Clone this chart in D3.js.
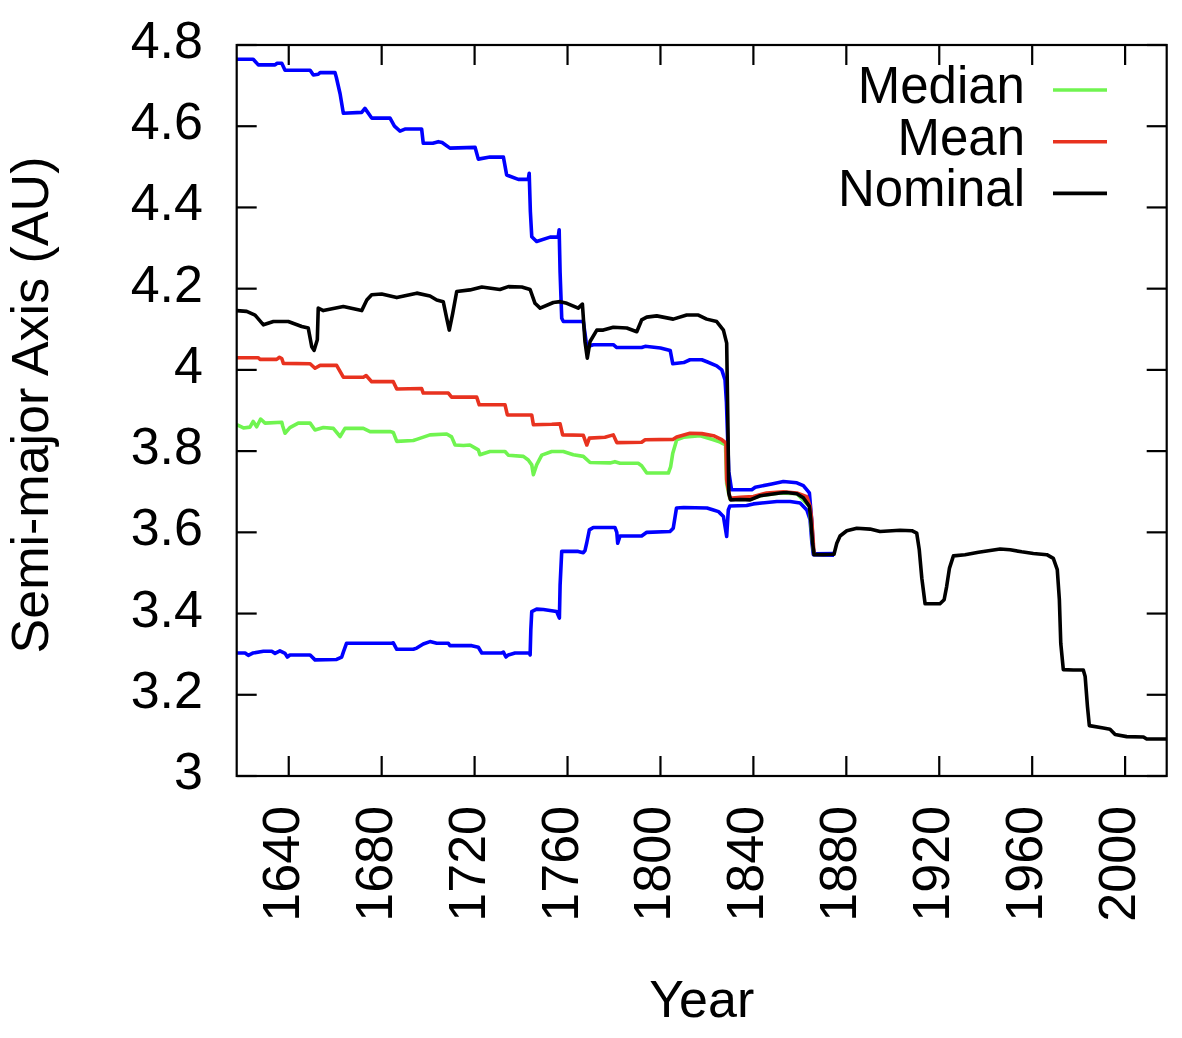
<!DOCTYPE html>
<html>
<head>
<meta charset="utf-8">
<script src="https://cdn.jsdelivr.net/npm/d3@7"></script>
<style>
  body { margin: 0; background: #fff; }
  text { font-family: "Liberation Sans", Arial, sans-serif; fill: #000; }
  .line { fill: none; stroke-width: 3.6px; stroke-linejoin: round; }
</style>
</head>
<body>
<svg width="1182" height="1038"></svg>
<script>
var width = 1182;
var height = 1038;

// [year, semi-major axis (AU)]
var upper_bound = [
  [1617.6,4.765],[1624.7,4.765],[1626.9,4.751],[1634.1,4.751],[1635.0,4.755],[1637.0,4.755],[1638.4,4.738],
  [1649.2,4.738],[1650.6,4.726],[1652.7,4.728],[1653.5,4.732],[1659.9,4.732],[1660.5,4.720],[1662.1,4.680],
  [1663.5,4.632],[1671.4,4.634],[1672.8,4.644],[1675.7,4.620],[1683.6,4.620],[1685.5,4.600],[1687.9,4.588],
  [1690.0,4.593],[1697.2,4.593],[1697.9,4.558],[1702.0,4.558],[1704.4,4.562],[1706.0,4.560],[1709.4,4.546],
  [1720.2,4.548],[1721.6,4.519],[1726.6,4.524],[1732.4,4.524],[1733.8,4.480],[1738.8,4.469],[1743.1,4.469],
  [1743.5,4.484],[1744.0,4.390],[1744.6,4.328],[1746.7,4.316],[1752.5,4.327],[1756.0,4.327],[1756.4,4.345],
  [1756.8,4.240],[1757.5,4.127],[1758.2,4.119],[1766.8,4.119],[1768.3,4.057],[1771.1,4.062],[1779.7,4.062],
  [1781.2,4.055],[1791.9,4.055],[1793.4,4.058],[1800.0,4.054],[1804.2,4.048],[1805.3,4.015],[1810.0,4.018],
  [1812.7,4.025],[1817.8,4.025],[1820.0,4.020],[1824.2,4.010],[1826.4,4.000],[1827.8,3.975],[1828.4,3.920],
  [1829.4,3.750],[1830.6,3.705],[1839.3,3.705],[1840.8,3.711],[1847.9,3.719],[1852.9,3.725],[1858.7,3.722],
  [1861.5,3.715],[1864.1,3.697],[1865.1,3.630],[1865.8,3.560],[1866.3,3.547],[1874.7,3.548]
];

var lower_bound = [
  [1617.6,3.303],[1621.2,3.303],[1622.6,3.297],[1624.7,3.303],[1629.1,3.307],[1632.7,3.307],[1634.1,3.302],
  [1636.2,3.308],[1638.4,3.302],[1639.4,3.293],[1640.5,3.298],[1649.2,3.298],[1651.3,3.286],[1660.6,3.287],
  [1662.8,3.293],[1663.5,3.305],[1664.9,3.327],[1684.3,3.327],[1685.0,3.328],[1686.5,3.312],[1693.6,3.312],
  [1695.1,3.315],[1697.9,3.325],[1700.8,3.331],[1703.7,3.327],[1708.7,3.327],[1709.4,3.321],[1718.8,3.321],
  [1721.6,3.317],[1723.1,3.303],[1731.7,3.303],[1732.4,3.305],[1733.5,3.293],[1734.5,3.298],[1737.4,3.303],
  [1743.6,3.303],[1743.9,3.298],[1744.2,3.360],[1744.6,3.405],[1746.7,3.411],[1749.6,3.410],[1755.3,3.405],
  [1756.5,3.389],[1756.8,3.470],[1757.5,3.553],[1764.6,3.553],[1766.8,3.550],[1767.5,3.555],[1768.3,3.575],
  [1769.4,3.606],[1771.1,3.612],[1780.4,3.612],[1781.2,3.600],[1781.6,3.573],[1782.6,3.591],[1791.9,3.591],
  [1794.1,3.600],[1804.1,3.602],[1805.5,3.610],[1806.9,3.660],[1810.0,3.661],[1820.0,3.660],[1822.8,3.655],
  [1825.0,3.651],[1827.1,3.639],[1828.5,3.590],[1829.2,3.655],[1829.9,3.665],[1837.1,3.666],[1840.0,3.670],
  [1850.1,3.676],[1855.8,3.676],[1860.1,3.672],[1863.0,3.655],[1864.4,3.631],[1865.1,3.580],[1865.8,3.545],
  [1874.7,3.544]
];

var median = [
  [1617.6,3.865],[1620.5,3.857],[1623.3,3.859],[1624.7,3.873],[1626.2,3.860],[1627.9,3.879],[1629.8,3.869],
  [1637.0,3.871],[1637.4,3.862],[1638.4,3.844],[1640.5,3.858],[1644.1,3.869],[1649.2,3.869],[1651.3,3.852],
  [1654.9,3.858],[1659.2,3.856],[1662.1,3.836],[1664.2,3.856],[1672.1,3.856],[1675.0,3.848],[1683.6,3.848],
  [1685.0,3.846],[1686.5,3.824],[1693.6,3.826],[1695.1,3.829],[1700.8,3.840],[1708.0,3.842],[1710.1,3.835],
  [1711.6,3.815],[1715.2,3.814],[1718.0,3.815],[1721.6,3.803],[1722.3,3.791],[1726.6,3.799],[1733.1,3.799],
  [1734.5,3.790],[1741.0,3.787],[1743.1,3.778],[1744.6,3.766],[1745.3,3.742],[1746.7,3.766],[1748.9,3.790],
  [1753.2,3.799],[1758.2,3.799],[1762.5,3.791],[1766.8,3.787],[1769.7,3.772],[1778.3,3.771],[1780.4,3.774],
  [1782.6,3.770],[1790.4,3.770],[1791.9,3.764],[1794.1,3.746],[1803.4,3.746],[1804.4,3.762],[1805.3,3.795],
  [1807.0,3.828],[1809.9,3.834],[1817.1,3.838],[1822.8,3.828],[1825.7,3.822],[1828.0,3.815],[1828.5,3.720],
  [1829.9,3.682],[1834.3,3.681],[1838.6,3.682],[1842.9,3.690],[1851.5,3.697],[1858.7,3.695],[1864.1,3.664],
  [1865.5,3.573],[1866.1,3.545]
];

var mean = [
  [1617.6,4.030],[1626.9,4.030],[1627.6,4.026],[1634.8,4.026],[1636.0,4.031],[1637.0,4.028],[1637.7,4.016],
  [1649.2,4.015],[1651.3,4.004],[1653.5,4.011],[1660.6,4.011],[1663.5,3.982],[1672.1,3.982],[1673.3,3.986],
  [1675.7,3.971],[1685.0,3.971],[1686.5,3.953],[1697.2,3.954],[1697.9,3.943],[1708.7,3.943],[1710.1,3.933],
  [1720.9,3.933],[1722.0,3.914],[1733.1,3.914],[1734.1,3.889],[1744.6,3.889],[1745.3,3.865],[1753.2,3.866],
  [1756.8,3.867],[1757.9,3.840],[1766.8,3.839],[1768.3,3.815],[1769.4,3.832],[1776.1,3.834],[1779.7,3.840],
  [1781.2,3.821],[1791.9,3.822],[1793.4,3.828],[1805.5,3.829],[1807.0,3.835],[1812.7,3.844],[1817.8,3.843],
  [1822.8,3.838],[1826.4,3.828],[1828.2,3.820],[1828.5,3.729],[1829.9,3.684],[1834.3,3.686],[1840.0,3.688],
  [1845.7,3.697],[1852.9,3.700],[1858.7,3.697],[1863.0,3.688],[1864.4,3.664],[1865.1,3.631],[1865.8,3.573],
  [1866.1,3.545]
];

var nominal = [
  [1617.6,4.146],[1621.9,4.144],[1625.5,4.135],[1629.1,4.111],[1633.4,4.119],[1639.8,4.119],[1645.6,4.107],
  [1648.4,4.103],[1649.9,4.057],[1650.9,4.048],[1652.3,4.074],[1652.7,4.152],[1654.9,4.146],[1663.5,4.156],
  [1671.4,4.146],[1673.6,4.172],[1675.7,4.185],[1680.0,4.187],[1686.5,4.178],[1695.1,4.189],[1700.8,4.182],
  [1703.7,4.172],[1706.5,4.168],[1708.0,4.127],[1709.1,4.098],[1710.6,4.140],[1712.3,4.193],[1718.0,4.197],
  [1723.1,4.204],[1730.9,4.198],[1734.5,4.205],[1740.3,4.204],[1743.9,4.198],[1746.0,4.164],[1748.2,4.152],
  [1753.9,4.166],[1756.8,4.168],[1759.7,4.164],[1764.6,4.152],[1766.4,4.162],[1767.5,4.070],[1768.5,4.029],
  [1769.7,4.070],[1772.6,4.098],[1775.4,4.098],[1779.7,4.105],[1785.5,4.103],[1789.8,4.094],[1791.9,4.123],
  [1794.1,4.130],[1798.4,4.133],[1805.5,4.125],[1811.3,4.135],[1816.3,4.135],[1819.9,4.125],[1824.2,4.119],
  [1827.1,4.098],[1828.5,4.066],[1829.0,3.877],[1829.4,3.697],[1830.2,3.680],[1834.3,3.681],[1838.6,3.680],
  [1842.9,3.690],[1851.5,3.697],[1854.3,3.698],[1858.7,3.695],[1861.5,3.685],[1864.1,3.664],[1864.7,3.631],
  [1865.5,3.573],[1866.1,3.545],[1870.1,3.545],[1874.7,3.546],[1875.9,3.573],[1877.3,3.591],[1880.2,3.604],
  [1884.5,3.610],[1890.2,3.608],[1894.5,3.602],[1903.1,3.605],[1908.2,3.604],[1910.3,3.598],[1911.4,3.557],
  [1912.5,3.487],[1913.9,3.424],[1920.3,3.424],[1922.1,3.434],[1923.2,3.467],[1924.4,3.512],[1926.1,3.542],
  [1931.1,3.545],[1936.9,3.551],[1946.2,3.559],[1950.5,3.557],[1955.5,3.552],[1960.5,3.548],[1966.3,3.545],
  [1969.1,3.536],[1970.8,3.508],[1971.7,3.434],[1972.3,3.327],[1973.4,3.262],[1977.7,3.261],[1982.0,3.261],
  [1982.8,3.245],[1983.8,3.171],[1984.6,3.124],[1990.6,3.118],[1993.5,3.115],[1995.7,3.102],[2000.7,3.097],
  [2007.9,3.096],[2009.3,3.091],[2017.9,3.091]
];

var x_ticks = [1640, 1680, 1720, 1760, 1800, 1840, 1880, 1920, 1960, 2000];
var y_ticks = [3, 3.2, 3.4, 3.6, 3.8, 4, 4.2, 4.4, 4.6, 4.8];
var legend_labels = ["Median", "Mean", "Nominal"];

var blue = "#0000ff";
var legend_colors = ["#70f450", "#e8321f", "#000000"];

var plot = { left: 236.7, right: 1166.7, top: 45, bottom: 776 };
var tick_len = 20;
var font_size = 52;

var x = d3.scaleLinear().domain([1617.6, 2017.9]).range([plot.left, plot.right]);
var y = d3.scaleLinear().domain([3, 4.8]).range([plot.bottom, plot.top]);

var svg = d3.select("svg")
    .attr("width", width)
    .attr("height", height);

svg.append("rect").attr("width", width).attr("height", height).attr("fill", "#fff");

// data lines (bounds first so the nominal curve ends up on top)
var line = d3.line()
    .x(function(d) { return x(d[0]); })
    .y(function(d) { return y(d[1]); });

var series = [
  { data: upper_bound, color: blue },
  { data: lower_bound, color: blue },
  { data: median, color: legend_colors[0] },
  { data: mean, color: legend_colors[1] },
  { data: nominal, color: legend_colors[2] }
];

svg.append("g").selectAll(".line")
    .data(series)
  .enter().append("path")
    .attr("class", "line")
    .attr("stroke", function(d) { return d.color; })
    .attr("d", function(d) { return line(d.data); });

// axes: gnuplot style, ticks pointing inwards on all four sides
var axes = svg.append("g")
    .attr("stroke", "#000")
    .attr("stroke-width", 2.2);

axes.append("rect")
    .attr("x", plot.left)
    .attr("y", plot.top)
    .attr("width", plot.right - plot.left)
    .attr("height", plot.bottom - plot.top)
    .attr("fill", "none");

y_ticks.forEach(function(t) {
    axes.append("line").attr("x1", plot.left).attr("x2", plot.left + tick_len).attr("y1", y(t)).attr("y2", y(t));
    axes.append("line").attr("x1", plot.right).attr("x2", plot.right - tick_len).attr("y1", y(t)).attr("y2", y(t));
});

x_ticks.forEach(function(t) {
    axes.append("line").attr("x1", x(t)).attr("x2", x(t)).attr("y1", plot.bottom).attr("y2", plot.bottom - tick_len);
    axes.append("line").attr("x1", x(t)).attr("x2", x(t)).attr("y1", plot.top).attr("y2", plot.top + tick_len);
});

var fmt = function(v) { return String(+v.toFixed(1)); };

svg.append("g").selectAll(".ylab")
    .data(y_ticks)
  .enter().append("text")
    .attr("class", "ylab")
    .attr("x", 203)
    .attr("y", function(d) { return y(d) + 13; })
    .attr("text-anchor", "end")
    .attr("font-size", font_size)
    .text(fmt);

svg.append("g").selectAll(".xlab")
    .data(x_ticks)
  .enter().append("text")
    .attr("class", "xlab")
    .attr("transform", function(d) { return "translate(" + (x(d) + 10) + ",806) rotate(-90)"; })
    .attr("text-anchor", "end")
    .attr("font-size", font_size)
    .text(function(d) { return d; });

svg.append("text")
    .attr("transform", "translate(48,405) rotate(-90)")
    .attr("text-anchor", "middle")
    .attr("font-size", font_size)
    .text("Semi-major Axis (AU)");

svg.append("text")
    .attr("x", (plot.left + plot.right) / 2)
    .attr("y", 1017)
    .attr("text-anchor", "middle")
    .attr("font-size", font_size)
    .text("Year");

// legend (rows are tighter than the font's line box, as in the original)
var legend = svg.append("g").selectAll(".legend")
    .data(legend_labels)
  .enter().append("g")
    .attr("class", "legend")
    .attr("transform", function(d, i) { return "translate(0," + (90 + i * 51.7) + ")"; });

legend.append("text")
    .attr("x", 1025)
    .attr("y", 13)
    .attr("text-anchor", "end")
    .attr("font-size", 51)
    .text(function(d) { return d; });

legend.append("line")
    .attr("x1", 1053)
    .attr("x2", 1107)
    .attr("stroke", function(d, i) { return legend_colors[i]; })
    .attr("stroke-width", 3.6);
</script>
</body>
</html>
